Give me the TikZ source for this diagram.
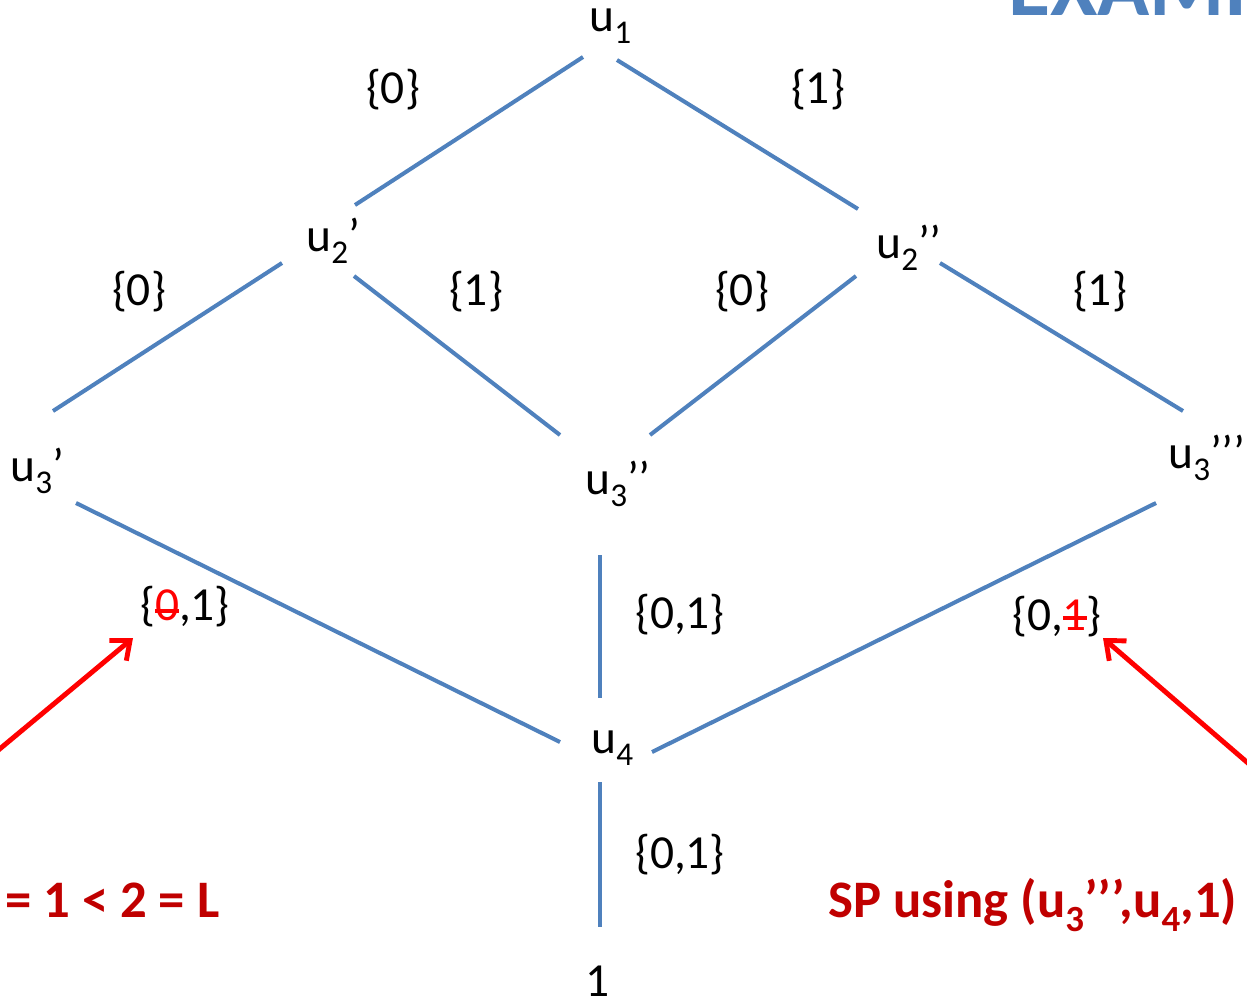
\documentclass[tikz,border=0pt]{standalone}
\usepackage{fontspec}
\setmainfont{Carlito}
\usepackage{xcolor}
\usepackage{tikz}
\usetikzlibrary{arrows.meta, calc}
\definecolor{edgeblue}{HTML}{4F81BD}
\definecolor{notered}{HTML}{C00000}
\newcommand{\lowsub}[1]{\raisebox{-0.27em}{\scalebox{0.7}{#1}}}
\newsavebox{\strikebox}
\newcommand{\struck}[2][0.2em]{\sbox{\strikebox}{\color{red}#2}{\color{red}\rlap{\usebox{\strikebox}}\rule[#1]{\wd\strikebox}{0.08em}}}

\begin{document}
\begin{tikzpicture}[x=0.02cm, y=-0.02cm, >={Straight Barb[length=9pt, width=15pt]},
    font=\fontsize{27}{32}\selectfont,
    vertex/.style={inner sep=0pt, anchor=base west},
    branch/.style={edgeblue, line width=2.3pt},
    setlbl/.style={inner sep=0pt},
    pointer/.style={->, red, line width=2.8pt, line join=round},
    note/.style={inner sep=0pt, anchor=base west, text=notered, font=\fontsize{30}{36}\selectfont\bfseries}]
    \useasboundingbox (0,0) rectangle (1247,1005);
    \clip (0,0) rectangle (1247,1005);

    % title, cut by the frame
    \node[inner sep=0pt, anchor=base west, text=edgeblue, font=\fontsize{49}{58}\selectfont\bfseries] (title) at (1008,15) {EXAMPLE};

    % the layered graph
    \node[vertex] (u1) at (589,31) {u\lowsub{1}};
    \node[vertex] (u2a) at (306,251) {u\lowsub{2}’};
    \node[vertex] (u2b) at (876,258) {u\lowsub{2}’’};
    \node[vertex] (u3a) at (10,481) {u\lowsub{3}’};
    \node[vertex] (u3b) at (585,494) {u\lowsub{3}’’};
    \node[vertex] (u3c) at (1168,468) {u\lowsub{3}’’’};
    \node[vertex] (u4) at (591,753) {u\lowsub{4}};
    \node[inner sep=0pt, anchor=base] (sink) at (598,996) {1};

    \draw[branch] ($(u1.base west)+(-6,26)$) -- ($(u2a.base west)+(49,-46)$);
    \draw[branch] ($(u1.base west)+(28,29)$) -- ($(u2b.base west)+(-18,-49)$);
    \draw[branch] ($(u2a.base west)+(-24,12)$) -- ($(u3a.base west)+(43,-70)$);
    \draw[branch] ($(u2a.base west)+(48,25)$) -- ($(u3b.base west)+(-25,-59)$);
    \draw[branch] ($(u2b.base west)+(-20,18)$) -- ($(u3b.base west)+(65,-59)$);
    \draw[branch] ($(u2b.base west)+(64,5)$) -- ($(u3c.base west)+(15,-57)$);
    \draw[branch] ($(u3a.base west)+(66,22)$) -- ($(u4.base west)+(-31,-11)$);
    \draw[branch] ($(u3b.base west)+(15,61)$) -- ($(u4.base west)+(9,-55)$);
    \draw[branch] ($(u3c.base west)+(-12,35)$) -- ($(u4.base west)+(61,-1)$);
    \draw[branch] ($(u4.base west)+(9,29)$) -- ($(sink.base)+(2,-69)$);

    % edge labels
    \node[setlbl] (s12a) at (393,90) {\{0\}};
    \node[setlbl] (s12b) at (818,90) {\{1\}};
    \node[setlbl] (s23a) at (139,292) {\{0\}};
    \node[setlbl] (s23b) at (476,292) {\{1\}};
    \node[setlbl] (s23c) at (742,292) {\{0\}};
    \node[setlbl] (s23d) at (1100,292) {\{1\}};
    \node[setlbl] (s34a) at (185,607) {\{\struck[0.17em]{0},1\}};
    \node[setlbl] (s34b) at (680,615) {\{0,1\}};
    \node[setlbl] (s34c) at (1057,617) {\{0,\struck[0.24em]{1}\}};
    \node[setlbl] (s45) at (680,855) {\{0,1\}};

    % remarks
    \node[note] (lhs) at (5,917) {= 1 < 2 = L};
    \node[note] (rhs) at (828,917) {SP using (u\lowsub{3}’’’,u\lowsub{4},1)};

    \coordinate (lfrom) at (-40,782);
    \coordinate (rfrom) at (1285,795);
    \draw[pointer] (lfrom) -- ($(s34a)+(-52,31)$);
    \draw[pointer] (rfrom) -- ($(s34c)+(46,21)$);
\end{tikzpicture}
\end{document}
